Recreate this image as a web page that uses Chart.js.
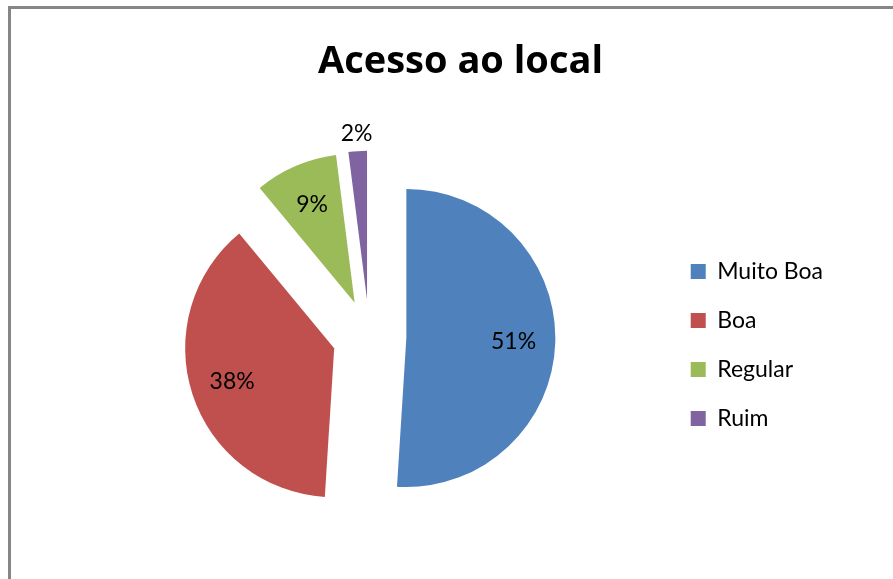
<!DOCTYPE html>
<html>
<head>
<meta charset="utf-8">
<script src="https://cdn.jsdelivr.net/npm/chart.js@4.4.1/dist/chart.umd.min.js"></script>
<style>
  body { margin: 0; background: #fff; }
  #frame { position: absolute; left: 8px; top: 6px; width: 885px; height: 573px;
           border-left: 3px solid #868686; border-top: 3px solid #868686; }
  #frame canvas { display: block; }
</style>
</head>
<body>
<div id="frame"><canvas id="pieChart" width="882" height="570"></canvas></div>
<script>
// data
var categories = ["Muito Boa", "Boa", "Regular", "Ruim"];
var values = [51, 38, 9, 2];
var sliceColors = ['#4F81BD', '#C0504D', '#9BBB59', '#8064A2'];

var EXPLODE = 37;   // px each slice is pulled out

Chart.defaults.color = '#000';
Chart.defaults.font.family = 'Lato, "Open Sans", sans-serif';

// pull slices out along their middle angle, keeping the same radius
var explodePlugin = {
    id: 'explode',
    beforeDatasetDraw: function(chart, args) {
        var ctx = chart.ctx;
        args.meta.data.forEach(function(arc) {
            var mid = (arc.startAngle + arc.endAngle) / 2;
            ctx.save();
            ctx.translate(Math.cos(mid) * EXPLODE, Math.sin(mid) * EXPLODE);
            arc.draw(ctx);
            ctx.restore();
        });
        return false;
    }
};

// percentage labels, small slices outside
var percentPlugin = {
    id: 'percentLabels',
    afterDatasetsDraw: function(chart) {
        var ctx = chart.ctx;
        var meta = chart.getDatasetMeta(0);
        var data = chart.data.datasets[0].data;
        var total = data.reduce(function(a, b) { return a + b; }, 0);
        ctx.save();
        ctx.font = '23px Lato, "Open Sans", sans-serif';
        ctx.fillStyle = '#000';
        ctx.textAlign = 'center';
        ctx.textBaseline = 'middle';
        meta.data.forEach(function(arc, i) {
            var pct = data[i] / total;
            var mid = (arc.startAngle + arc.endAngle) / 2;
            var k = pct < 0.05 ? 1.12 : 0.72;
            var d = arc.outerRadius * k + EXPLODE;
            ctx.fillText(Math.round(pct * 100) + '%', arc.x + Math.cos(mid) * d, arc.y + Math.sin(mid) * d);
        });
        ctx.restore();
    }
};

var pieChart = new Chart(document.getElementById('pieChart'), {
    type: 'pie',
    data: {
        labels: categories,
        datasets: [{
            data: values,
            backgroundColor: sliceColors,
            borderWidth: 0
        }]
    },
    options: {
        responsive: false,
        animation: false,
        radius: 149,
        layout: {
            padding: { left: 63, right: 46, top: 0, bottom: 14 }
        },
        plugins: {
            title: {
                display: true,
                text: 'Acesso ao local',
                font: { family: '"Open Sans", Lato, sans-serif', size: 38, weight: 'bold' },
                padding: { top: 30, bottom: 24 }
            },
            // empty spacer on the right, keeps the legend off the frame edge
            subtitle: {
                display: true,
                position: 'right',
                text: ' ',
                font: { size: 10 },
                padding: 1
            },
            legend: {
                position: 'right',
                title: { display: true, text: ' ', font: { size: 10 }, padding: 52 },
                labels: {
                    boxWidth: 15,
                    boxHeight: 15,
                    padding: 26,
                    font: { size: 23 }
                }
            },
            tooltip: { enabled: false }
        }
    },
    plugins: [explodePlugin, percentPlugin]
});
</script>
</body>
</html>
